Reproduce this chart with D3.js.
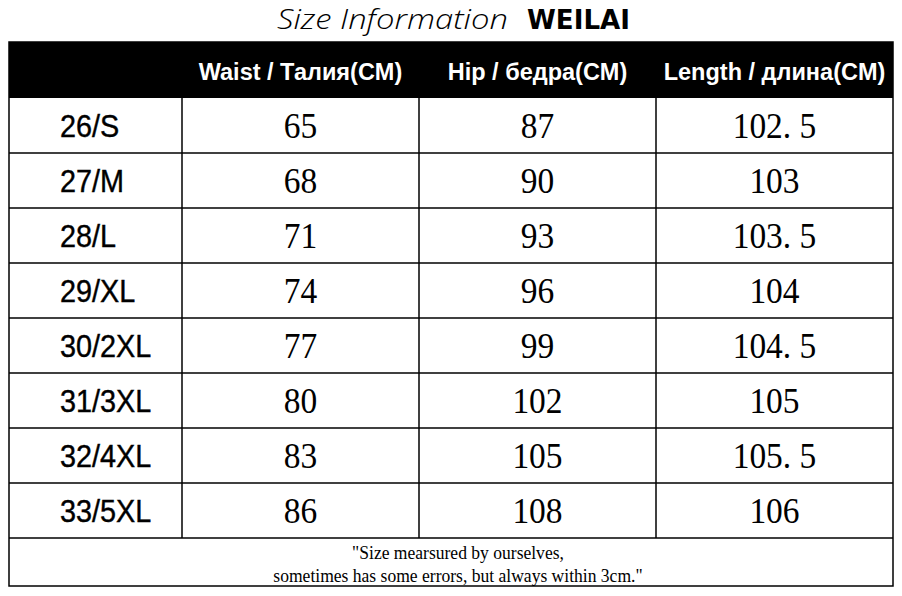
<!DOCTYPE html>
<html>
<head>
<meta charset="utf-8">
<script src="https://cdn.jsdelivr.net/npm/d3@7"></script>
<style>
  body { margin: 0; background: #fff; }
  svg { display: block; }
</style>
</head>
<body>
<script>
// size chart data
var sizes = ["26/S", "27/M", "28/L", "29/XL", "30/2XL", "31/3XL", "32/4XL", "33/5XL"];
var headers = ["", "Waist / Талия(CM)", "Hip / бедра(CM)", "Length / длина(CM)"];
var waist = ["65", "68", "71", "74", "77", "80", "83", "86"];
var hip = ["87", "90", "93", "96", "99", "102", "105", "108"];
var length = ["102. 5", "103", "103. 5", "104", "104. 5", "105", "105. 5", "106"];
var note = ["\"Size mearsured by ourselves,", "sometimes has some errors, but always within 3cm.\""];

var W = 902, H = 596;
var left = 9, right = 893;
var headTop = 42, bodyTop = 98, bodyBottom = 538, footBottom = 586;
// column edges
var edges = [left, 182, 419, 656, right];

var svg = d3.select("body").append("svg")
    .attr("width", W)
    .attr("height", H);

var y = d3.scaleBand()
    .domain(sizes)
    .range([bodyTop, bodyBottom]);

var colMid = function(i) { return (edges[i] + edges[i + 1]) / 2; };

// squeeze a text horizontally around its anchor
function squeeze(sel, k) {
    sel.attr("transform", function() {
        var t = d3.select(this);
        var x = +t.attr("x");
        return "translate(" + x + ",0) scale(" + k + ",1) translate(" + (-x) + ",0)";
    });
}

// title
var title = svg.append("text")
    .attr("x", 453)
    .attr("y", 29);
title.append("tspan")
    .attr("x", 277)
    .attr("textLength", 231)
    .attr("lengthAdjust", "spacingAndGlyphs")
    .style("font-family", "'Open Sans', sans-serif")
    .style("font-style", "italic")
    .style("font-weight", 300)
    .style("font-size", "27px")
    .text("Size Information");
title.append("tspan")
    .attr("x", 527)
    .attr("textLength", 103)
    .attr("lengthAdjust", "spacingAndGlyphs")
    .style("font-family", "'DejaVu Sans', sans-serif")
    .style("font-weight", 900)
    .style("font-size", "26px")
    .text("WEILAI");

// header band
svg.append("rect")
    .attr("x", left)
    .attr("y", headTop)
    .attr("width", right - left)
    .attr("height", bodyTop - headTop)
    .attr("fill", "#000");

svg.selectAll(".head")
    .data(headers)
    .enter().append("text")
    .attr("class", "head")
    .attr("x", function(d, i) { return colMid(i); })
    .attr("y", 80)
    .attr("text-anchor", "middle")
    .attr("fill", "#fff")
    .style("font-family", "'Liberation Sans', Arial, sans-serif")
    .style("font-weight", "bold")
    .style("font-size", "23.5px")
    .text(function(d) { return d; });

// rows
var rows = svg.selectAll(".row")
    .data(sizes)
    .enter().append("g")
    .attr("class", "row");

rows.append("line")
    .attr("x1", left).attr("x2", right)
    .attr("y1", function(d) { return y(d) + y.bandwidth(); })
    .attr("y2", function(d) { return y(d) + y.bandwidth(); })
    .attr("stroke", "#000")
    .attr("stroke-width", 1.5);

rows.append("text")
    .attr("x", 60)
    .attr("y", function(d) { return y(d) + y.bandwidth() / 2 + 12; })
    .attr("stroke", "#000")
    .attr("stroke-width", 0.4)
    .style("font-family", "'Liberation Sans', Arial, sans-serif")
    .style("font-size", "31px")
    .text(function(d) { return d; })
    .call(squeeze, 0.93);

var cols = [waist, hip, length];
cols.forEach(function(vals, c) {
    svg.selectAll(".v" + c)
        .data(vals)
        .enter().append("text")
        .attr("class", "v" + c)
        .attr("x", colMid(c + 1))
        .attr("y", function(d, i) { return y(sizes[i]) + y.bandwidth() / 2 + 12.5; })
        .attr("text-anchor", "middle")
        .style("font-family", "'Liberation Serif', 'Times New Roman', serif")
        .style("font-size", "36px")
        .text(function(d) { return d; })
        .call(squeeze, 0.93);
});

// column rules
svg.selectAll(".vline")
    .data(edges.slice(1, 4))
    .enter().append("line")
    .attr("x1", function(d) { return d; })
    .attr("x2", function(d) { return d; })
    .attr("y1", bodyTop)
    .attr("y2", bodyBottom)
    .attr("stroke", "#000")
    .attr("stroke-width", 1.5);

// outer border
svg.append("rect")
    .attr("x", left)
    .attr("y", headTop)
    .attr("width", right - left)
    .attr("height", footBottom - headTop)
    .attr("fill", "none")
    .attr("stroke", "#000")
    .attr("stroke-width", 1.5);

// footnote
svg.selectAll(".note")
    .data(note)
    .enter().append("text")
    .attr("class", "note")
    .attr("x", 458)
    .attr("y", function(d, i) { return 559 + i * 23; })
    .attr("text-anchor", "middle")
    .style("font-family", "'Liberation Serif', 'Times New Roman', serif")
    .style("font-size", "19.5px")
    .text(function(d) { return d; })
    .call(squeeze, 0.9);
</script>
</body>
</html>
